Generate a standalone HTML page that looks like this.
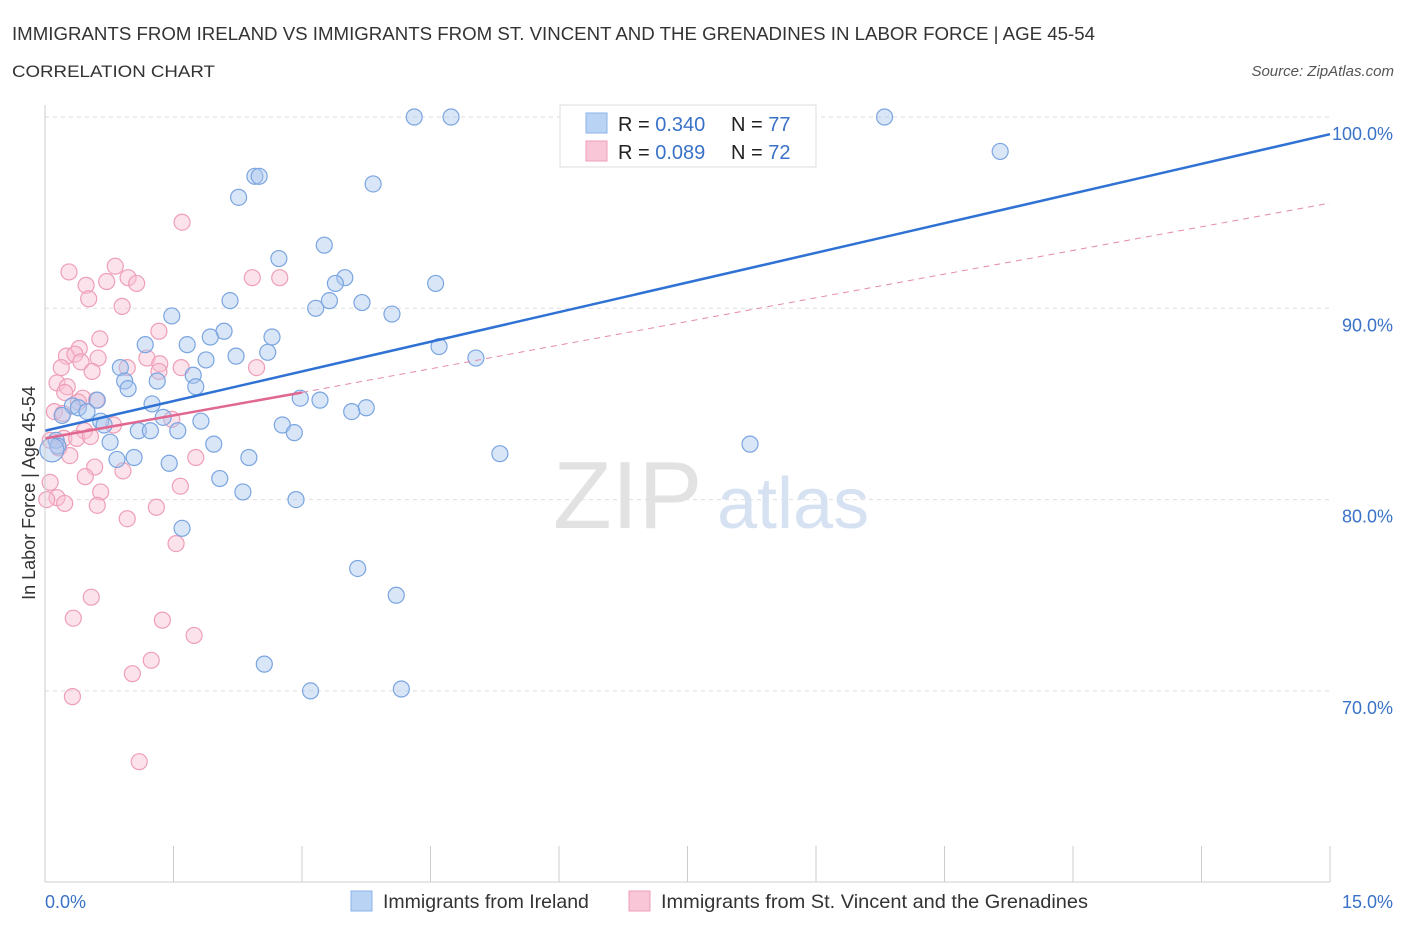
<!DOCTYPE html>
<html><head><meta charset="utf-8"><style>
body{margin:0;background:#fff;font-family:"Liberation Sans",sans-serif;}
svg text{font-family:"Liberation Sans",sans-serif;}
</style></head><body>
<svg id="chart" width="1406" height="930" xmlns="http://www.w3.org/2000/svg">
<text x="12" y="40" font-size="18" fill="#333" textLength="1083" lengthAdjust="spacingAndGlyphs">IMMIGRANTS FROM IRELAND VS IMMIGRANTS FROM ST. VINCENT AND THE GRENADINES IN LABOR FORCE | AGE 45-54</text>
<text x="12" y="77" font-size="17" fill="#333" textLength="203" lengthAdjust="spacingAndGlyphs">CORRELATION CHART</text>
<text x="1394" y="76" font-size="15" fill="#555" font-style="italic" text-anchor="end">Source: ZipAtlas.com</text>
<g id="grid"></g>
<g>
<text x="553" y="528" font-size="96" fill="#e2e2e2" font-family="Liberation Serif">ZIP</text>
<text x="717" y="528" font-size="72" fill="#d6e2f2">atlas</text>
</g>
<g id="pts"></g>
<g id="lines"></g>
<line x1="45" y1="105" x2="45" y2="882" stroke="#ccc"/>
<line x1="45" y1="882" x2="1330" y2="882" stroke="#ccc"/>
<text x="35" y="493" font-size="18" fill="#333" text-anchor="middle" transform="rotate(-90 35 493)">In Labor Force | Age 45-54</text>
<text x="45" y="908" font-size="18" fill="#3a72c8">0.0%</text>
<text x="1393" y="908" font-size="18" fill="#3a72c8" text-anchor="end">15.0%</text>
<g>
<rect x="560" y="105" width="256" height="62" fill="#fff" stroke="#ddd"/>
<rect x="586" y="113" width="21" height="20" fill="#b9d3f5" stroke="#8db3e8"/>
<rect x="586" y="141" width="21" height="20" fill="#f8c6d6" stroke="#ee9fb7"/>
<text x="618" y="131" font-size="20" fill="#222">R = <tspan fill="#3a72c8">0.340</tspan></text>
<text x="731" y="131" font-size="20" fill="#222">N = <tspan fill="#3a72c8">77</tspan></text>
<text x="618" y="159" font-size="20" fill="#222">R = <tspan fill="#3a72c8">0.089</tspan></text>
<text x="731" y="159" font-size="20" fill="#222">N = <tspan fill="#3a72c8">72</tspan></text>
</g>
<g>
<rect x="351" y="891" width="21" height="20" fill="#b9d3f5" stroke="#8db3e8"/>
<text x="383" y="908" font-size="19.5" fill="#333">Immigrants from Ireland</text>
<rect x="629" y="891" width="21" height="20" fill="#f8c6d6" stroke="#ee9fb7"/>
<text x="661" y="908" font-size="19.5" fill="#333" textLength="427" lengthAdjust="spacingAndGlyphs">Immigrants from St. Vincent and the Grenadines</text>
</g>
</svg>
<script>
const yTicks=[100,90,80,70];
const yTickLabels=["100.0%","90.0%","80.0%","70.0%"];
const xTicks=[0,1.5,3,4.5,6,7.5,9,10.5,12,13.5,15];
const blueX=[4.31,4.74,9.80,11.15,2.45,2.50,3.83,2.26,3.26,2.73,3.50,3.39,4.56,2.16,3.32,3.70,3.16,4.05,1.48,2.09,1.93,2.65,1.17,1.66,4.60,2.60,2.23,1.88,5.03,0.88,1.73,0.93,1.31,0.97,1.76,2.98,3.21,0.61,0.32,1.25,0.39,0.49,3.75,3.58,1.38,0.20,0.65,0.69,1.82,2.77,1.09,1.23,1.55,2.91,0.76,0.13,0.15,1.97,8.23,5.31,0.84,1.04,2.38,1.45,2.04,2.31,2.93,1.60,3.65,4.10,2.56,3.10,4.16,0.08];
const blueY=[100,100,100,98.2,96.9,96.9,96.5,95.8,93.3,92.6,91.6,91.3,91.3,90.4,90.4,90.3,90.0,89.7,89.6,88.8,88.5,88.5,88.1,88.1,88.0,87.7,87.5,87.3,87.4,86.9,86.5,86.2,86.2,85.8,85.9,85.3,85.2,85.2,84.9,85.0,84.8,84.6,84.8,84.6,84.3,84.4,84.1,83.9,84.1,83.9,83.6,83.6,83.6,83.5,83.0,83.1,82.8,82.9,82.9,82.4,82.1,82.2,82.2,81.9,81.1,80.4,80.0,78.5,76.4,75.0,71.4,70.0,70.1,82.6];
const pinkX=[1.60,0.82,0.28,0.97,2.42,2.74,1.07,0.72,0.48,0.51,0.90,1.33,0.64,0.40,0.25,0.35,0.62,1.19,0.42,1.34,0.96,2.47,0.19,1.59,1.33,0.55,0.14,0.26,0.23,0.60,0.44,0.39,0.11,0.21,1.48,0.80,0.46,0.22,0.37,0.53,0.06,0.16,1.76,0.29,0.58,0.91,0.47,0.06,1.58,0.65,0.14,0.02,0.23,0.61,1.30,0.96,1.53,0.54,0.33,1.37,1.74,1.24,1.02,0.32,1.10];
const pinkY=[94.5,92.2,91.9,91.6,91.6,91.6,91.3,91.4,91.2,90.5,90.1,88.8,88.4,87.9,87.5,87.6,87.4,87.4,87.2,87.1,86.9,86.9,86.9,86.9,86.7,86.7,86.1,85.9,85.6,85.2,85.3,85.1,84.6,84.5,84.2,83.9,83.6,83.2,83.2,83.3,83.1,82.7,82.2,82.3,81.7,81.5,81.2,80.9,80.7,80.4,80.1,80.0,79.8,79.7,79.6,79.0,77.7,74.9,73.8,73.7,72.9,71.6,70.9,69.7,66.3];
const blueTrend=[83.6,99.1];
const pinkTrend=[83.2,85.6,95.5];
const NS="http://www.w3.org/2000/svg";
const sx=v=>45+v*(1285/15);
const sy=v=>117+(100-v)*19.13;
function mk(tag,attrs,parent){const e=document.createElementNS(NS,tag);for(const k in attrs)e.setAttribute(k,attrs[k]);parent.appendChild(e);return e;}
const grid=document.getElementById('grid');
yTicks.forEach((t,i)=>{
 const l=mk('line',{x1:45,x2:1330,y1:sy(t),y2:sy(t),stroke:'#ddd','stroke-dasharray':'4 4'},grid);
 
 
 const tx=mk('text',{x:1393,y:sy(t)+23,'font-size':18,fill:'#3a72c8','text-anchor':'end'},grid);
 tx.textContent=yTickLabels[i];
 
 
});
xTicks.forEach(t=>{
 const l=mk('line',{x1:sx(t),x2:sx(t),y1:846,y2:882,stroke:'#ccc'},grid);
 
 
});
const pts=document.getElementById('pts');
pinkX.forEach((x,i)=>{
 const c=mk('circle',{cx:sx(x),cy:sy(pinkY[i]),r:8,fill:'rgba(248,190,210,0.45)',stroke:'#ee9fb7','stroke-width':1.2},pts);
 
 
});
blueX.forEach((x,i)=>{
 const c=mk('circle',{cx:sx(x),cy:sy(blueY[i]),r:i===blueX.length-1?12:8,fill:'rgba(170,200,240,0.45)',stroke:'#7aa5e0','stroke-width':1.2},pts);
 
 
});
const lines=document.getElementById('lines');
const bl=mk('line',{x1:sx(0),y1:sy(blueTrend[0]),x2:sx(15),y2:sy(blueTrend[1]),stroke:'#2f72d4','stroke-width':2.5},lines);


const pd=mk('line',{x1:sx(3),y1:sy(pinkTrend[1]),x2:sx(15),y2:sy(pinkTrend[2]),stroke:'#e68aa8','stroke-width':1,'stroke-dasharray':'6 5'},lines);


const pl=mk('line',{x1:sx(0),y1:sy(pinkTrend[0]),x2:sx(3),y2:sy(pinkTrend[1]),stroke:'#e06890','stroke-width':2.5},lines);


</script>
</body></html>
